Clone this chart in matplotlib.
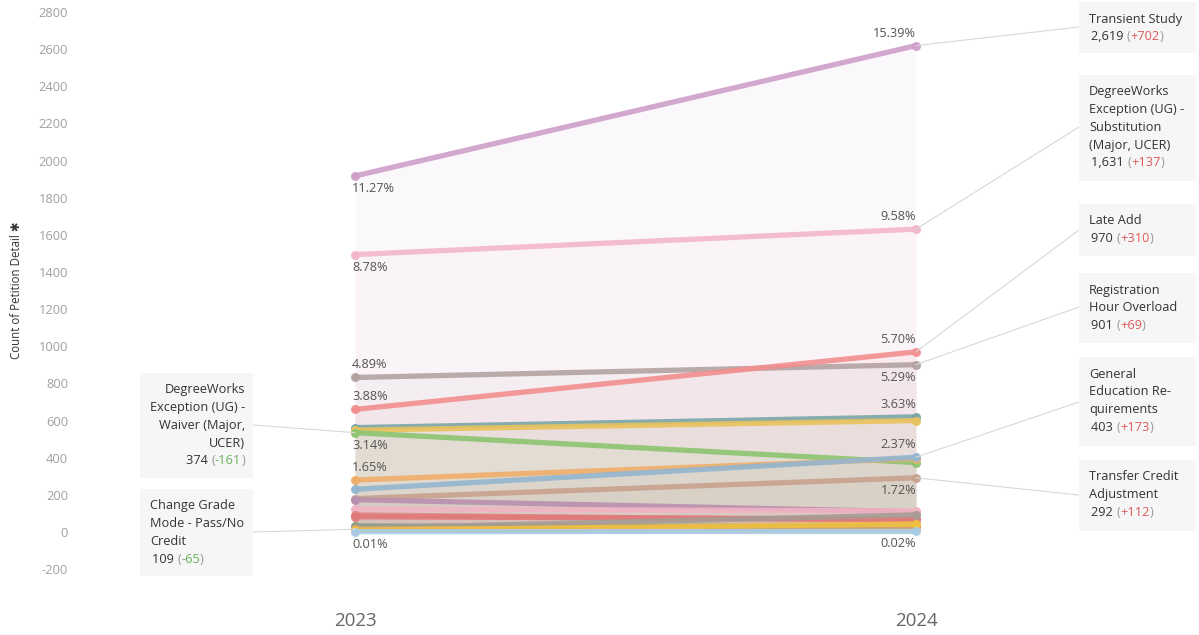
import matplotlib
matplotlib.use("Agg")
from matplotlib import pyplot as plt
from matplotlib.patches import Rectangle

plt.rcParams['font.family'] = ['Open Sans', 'DejaVu Sans']

years = [2023, 2024]

# petition types, 2023 count, 2024 count, line colour
names = [
    "Transient Study",
    "DegreeWorks Exception (UG) - Substitution (Major, UCER)",
    "Registration Hour Overload",
    "Late Add",
    "Other A",
    "Other B",
    "DegreeWorks Exception (UG) - Waiver (Major, UCER)",
    "Other C",
    "General Education Requirements",
    "Transfer Credit Adjustment",
    "Change Grade Mode - Pass/No Credit",
    "Other D",
    "Other E",
    "Other F",
    "Other G",
    "Other H",
    "Other I",
    "Other J",
    "Other K",
]
counts_2023 = [1917, 1494, 832, 660, 562, 548, 535, 280, 230, 180, 174, 124, 92, 82, 32, 20, 15, 10, 2]
counts_2024 = [2619, 1631, 901, 970, 620, 600, 374, 395, 403, 292, 109, 113, 62, 70, 30, 92, 25, 43, 3]
colors = ["#cf9fc9", "#f4b6cb", "#b3a3a3", "#f28e8e", "#7ba6a8", "#e9c25c", "#8cc46f",
          "#efae6a", "#93b6d0", "#c7a28e", "#b990ae", "#f0b4c3", "#e38383", "#e07a7a",
          "#7e9e84", "#a89c94", "#d9a46e", "#f0c040", "#a8cce4"]

# share-of-total labels (None = not shown), placed above (+1) or below (-1) the point
pct_2023 = ["11.27%", "8.78%", "4.89%", "3.88%", None, None, "3.14%", "1.65%",
            None, None, None, None, None, None, None, None, None, None, "0.01%"]
pct_2023_side = [-1, -1, 1, 1, 0, 0, -1, 1, 0, 0, 0, 0, 0, 0, 0, 0, 0, 0, -1]
pct_2024 = ["15.39%", "9.58%", "5.29%", "5.70%", "3.63%", None, None, None,
            "2.37%", "1.72%", None, None, None, None, None, None, None, None, "0.02%"]
pct_2024_side = [1, 1, -1, 1, 1, 0, 0, 0, 1, -1, 0, 0, 0, 0, 0, 0, 0, 0, -1]

yticks = list(range(-200, 3000, 200))

W, H = 1199, 635
fig = plt.figure(figsize=(W / 100, H / 100), dpi=100)
ax = fig.add_axes([75 / W, 0, 1124 / W, 1])

for i in range(len(names)):
    y = [counts_2023[i], counts_2024[i]]
    ax.fill_between(years, 0, y, color=colors[i], alpha=0.07, lw=0, zorder=1)
for i in range(len(names)):
    y = [counts_2023[i], counts_2024[i]]
    ax.plot(years, y, color=colors[i], lw=3.8, alpha=0.9, solid_capstyle="round",
            marker="o", ms=5.5, zorder=3)

for i in range(len(names)):
    if pct_2023[i]:
        off = 9 if pct_2023_side[i] > 0 else -9
        ax.annotate(pct_2023[i], (2023, counts_2023[i]), xytext=(-2, off), textcoords="offset points",
                    ha="left", va="center", fontsize=9.2, color="#555555", zorder=4)
    if pct_2024[i]:
        off = 9 if pct_2024_side[i] > 0 else -9
        ax.annotate(pct_2024[i], (2024, counts_2024[i]), xytext=(0, off), textcoords="offset points",
                    ha="right", va="center", fontsize=9.2, color="#555555", zorder=4)

ax.set_xlim(2023 - 280 / 561, 2023 + 844 / 561)
ax.set_ylim(-554.6, 2864.6)
ax.set_yticks(yticks)
ax.set_yticklabels([str(t) for t in yticks])
ax.tick_params(axis="y", length=0, pad=5, labelsize=9.3, labelcolor="#a0a0a0")
ax.set_xticks([])
for s in ax.spines.values():
    s.set_visible(False)
ax.patch.set_alpha(0)

for yr in years:
    ax.text(yr, -479, str(yr), ha="center", va="center", fontsize=13.5, color="#666666")

fig.text(17 / W, 1 - 290 / H, "Count of Petition Detail \u2731", rotation=90,
         ha="center", va="center", fontsize=8.3, color="#333333")


def fx(x):
    return x / W


def fy(y):
    return 1 - y / H


renderer = fig.canvas.get_renderer()
FS = 9.2


def note(idx, box, lines, align, leader_px, leader_year, leader_val=None):
    x0, y0, x1, y1 = box
    fig.patches.append(Rectangle((fx(x0), fy(y1)), fx(x1 - x0), (y1 - y0) / H,
                                 transform=fig.transFigure, facecolor="#f6f6f6",
                                 edgecolor="none", zorder=1))
    # leader from box edge to the data point
    yr = leader_year
    val = counts_2023[idx] if yr == 2023 else counts_2024[idx]
    if leader_val is not None:
        val = leader_val
    px, py = leader_px
    pt = ax.transData.transform((yr, val))
    fig.add_artist(plt.Line2D([fx(px), pt[0] / W], [fy(py), pt[1] / H],
                              transform=fig.transFigure, color="#d8d8d8", lw=0.8, zorder=0.5))
    ty = y0 + 17
    for ln in lines:
        fig.text(fx(x0 + 10) if align == "left" else fx(x1 - 8), fy(ty), ln,
                 ha=align, va="center", fontsize=FS, color="#333333")
        ty += 17.7
    delta = counts_2024[idx] - counts_2023[idx]
    dcol = "#e05a5a" if delta > 0 else "#6ab05a"
    parts = [("{:,} ".format(counts_2024[idx]), "#333333"), ("(", "#999999"),
             ("{:+d}".format(delta), dcol), (")", "#999999")]
    widths = []
    for txt, c in parts:
        t = fig.text(0, 0, txt, fontsize=FS)
        widths.append(t.get_window_extent(renderer).width)
        t.remove()
    total = sum(widths)
    cx = x0 + 12 if align == "left" else x1 - 8 - total
    for (txt, c), w in zip(parts, widths):
        fig.text(fx(cx), fy(ty), txt, ha="left", va="center", fontsize=FS, color=c)
        cx += w


note(0, (1079, 2, 1196, 53), ["Transient Study"], "left", (1079, 27), 2024)
note(1, (1079, 75, 1196, 181), ["DegreeWorks", "Exception (UG) -", "Substitution", "(Major, UCER)"],
     "left", (1079, 127), 2024)
note(3, (1079, 204, 1196, 256), ["Late Add"], "left", (1079, 230), 2024)
note(2, (1079, 273, 1196, 343), ["Registration", "Hour Overload"], "left", (1079, 307), 2024)
note(8, (1079, 357, 1196, 446), ["General", "Education Re-", "quirements"], "left", (1079, 402), 2024)
note(9, (1079, 460, 1196, 531), ["Transfer Credit", "Adjustment"], "left", (1079, 495), 2024)
note(6, (140, 373, 253, 478), ["DegreeWorks", "Exception (UG) -", "Waiver (Major,", "UCER)"],
     "right", (253, 425), 2023)
note(10, (140, 489, 253, 576), ["Change Grade", "Mode - Pass/No", "Credit"], "left", (253, 532), 2023,
     leader_val=15)

fig.savefig("out.png", dpi=100)
